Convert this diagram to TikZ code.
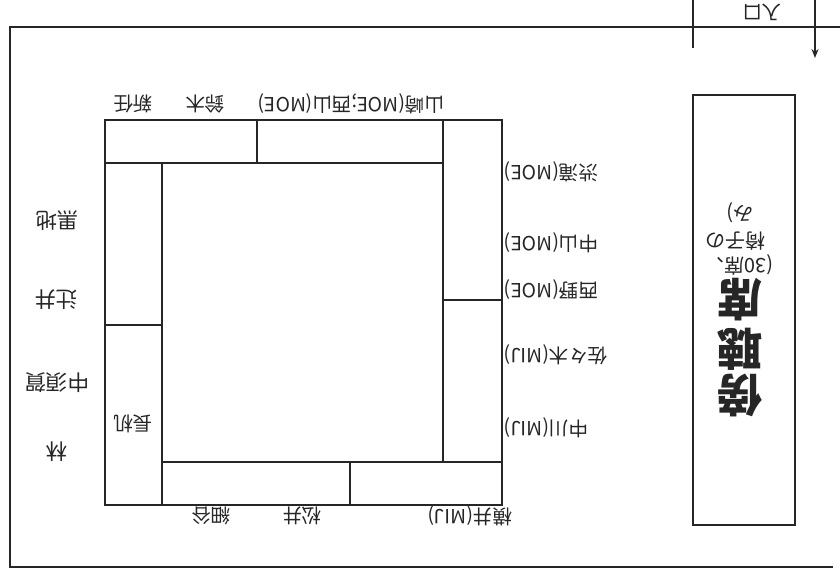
\documentclass[tikz,border=0pt]{standalone}
\usepackage{fontspec}
\newfontfamily\jp{Noto Sans CJK JP}
\usetikzlibrary{arrows.meta}
\begin{document}
\begin{tikzpicture}[x=1pt,y=-1pt,
  ln/.style={line width=1.3pt, draw=black!85},
  lbl/.style={font=\jp\fontsize{19.5}{19.5}\selectfont, rotate=180, inner sep=0pt, text=black!85},
  lblL/.style={font=\jp\fontsize{21.5}{21.5}\selectfont, rotate=180, inner sep=0pt, text=black!85},
  big/.style={font=\jp\bfseries\fontsize{45}{45}\selectfont, rotate=180, inner sep=0pt, text=black!85},
  sml/.style={font=\jp\fontsize{20}{20}\selectfont, rotate=180, inner sep=0pt, text=black!85}]
\useasboundingbox (0,0) rectangle (840,583);
\fill[white] (0,0) rectangle (840,583);
% outer frame
\coordinate (fTL) at (10,27);
\coordinate (fTR) at (840,27);
\coordinate (fBL) at (10,567);
\coordinate (fBR) at (833,567);
\draw[ln] (fTR) -- (fTL) -- (fBL) -- (fBR);
% entrance
\coordinate (e1a) at (693,0); \coordinate (e1b) at (693,48);
\coordinate (e2a) at (815,0); \coordinate (e2b) at (815,58);
\draw[ln] (e1a) -- (e1b);
\draw[ln, -{Stealth[length=9pt,width=7pt]}] (e2a) -- (e2b);
\node[lbl] (entr) at (762,12) {入口};
% gallery
\node[ln, draw, minimum width=102pt, minimum height=430pt, inner sep=0pt] (gal) at (744,310) {};
\node[big] (g1) at (740,395) {傍};
\node[big] (g2) at (740,349) {聴};
\node[big] (g3) at (740,300) {席};
\node[sml] (s1) at (739,265) {(30席、};
\node[sml] (s2) at (735,241) {椅子の};
\node[sml] (s3) at (740,213) {み)};
% table
\coordinate (A) at (105,120); \coordinate (B) at (502,120);
\coordinate (C) at (502,505); \coordinate (D) at (105,505);
\draw[ln] (A) rectangle (C);
\coordinate (I1) at (162,163); \coordinate (I2) at (443,462);
\draw[ln] (I1) rectangle (I2);
\draw[ln] (105,163) -- (I1);
\draw[ln] (443,120) -- (443,163);
\draw[ln] (443,462) -- (502,462);
\draw[ln] (162,462) -- (162,505);
\draw[ln] (257,120) -- (257,163);
\draw[ln] (350,462) -- (350,505);
\draw[ln] (105,325) -- (162,325);
\draw[ln] (443,300) -- (502,300);
% top labels
\node[lbl] (t1) at (133,104) {新任};
\node[lbl] (t2) at (205,104) {鈴木};
\node[lbl] (t3) at (351,104) {山崎(MOE;西山(MOE)};
% right labels
\node[lbl, anchor=east] (r1) at (504,172) {渋滝(MOE)};
\node[lbl, anchor=east] (r2) at (504,243) {中山(MOE)};
\node[lbl, anchor=east] (r3) at (504,290) {西野(MOE)};
\node[lbl, anchor=east] (r4) at (504,355) {佐々木(MIJ)};
\node[lbl, anchor=east] (r5) at (504,428) {中川(MIJ)};
% bottom labels
\node[lbl] (b1) at (470,516) {横井(MIJ)};
\node[lbl] (b2) at (302,516) {松井};
\node[lbl] (b3) at (211,516) {細谷};
% left labels
\node[lblL] (l1) at (57,221) {黒地};
\node[lblL] (l2) at (56,300) {辻井};
\node[lblL] (l3) at (57,383) {中須賀};
\node[lblL] (l4) at (57,452) {林};
\node[lbl] (l5) at (133,424) {長机};
\end{tikzpicture}
\end{document}
